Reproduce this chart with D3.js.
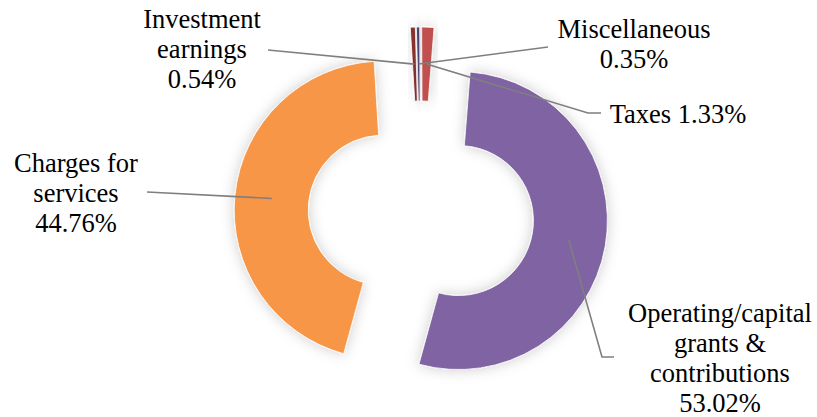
<!DOCTYPE html>
<html>
<head>
<meta charset="utf-8">
<script src="https://cdn.jsdelivr.net/npm/d3@7/dist/d3.min.js"></script>
<style>
  html, body { margin: 0; padding: 0; background: #ffffff; }
  svg { display: block; }
</style>
</head>
<body>
<svg id="chart" width="817" height="417"></svg>
<script>
// ---- data ----
const categories = ["Operating/capital grants & contributions", "Charges for services", "Investment earnings", "Miscellaneous", "Taxes"];
const values = [53.02, 44.76, 0.54, 0.35, 1.33];
const labelLines = [
  ["Operating/capital", "grants &", "contributions"],
  ["Charges for", "services"],
  ["Investment", "earnings"],
  ["Miscellaneous"],
  ["Taxes"]
];
const colors = ["#8064A2", "#F79646", "#86302E", "#4F4579", "#C0504D"];

// ---- layout ----
const cx = 421, cy = 214;
const outerR = 149, innerR = 75, explode = 38;
const startOffset = 4.5 * Math.PI / 180;
const fontSize = 26.5, lineH = 30;

// label layout (annotation positions)
const labelLayout = [
  { x: 720, y: 322, inline: false, path: [[602, 357], [614, 357]] },
  { x: 76,  y: 172, inline: false, path: [[147, 192]] },
  { x: 202, y: 28,  inline: false, path: [[268, 50]] },
  { x: 634, y: 38,  inline: false, path: [[548, 47]] },
  { x: 678, y: 123, inline: true,  path: [[588, 113], [601, 113]] }
];

const svg = d3.select("#chart");

const defs = svg.append("defs");
const f = defs.append("filter").attr("id", "shadow")
  .attr("x", "-30%").attr("y", "-30%").attr("width", "160%").attr("height", "160%");
f.append("feGaussianBlur").attr("in", "SourceAlpha").attr("stdDeviation", 7).attr("result", "blur");
f.append("feFlood").attr("flood-color", "#000").attr("flood-opacity", 0.2).attr("result", "col");
f.append("feComposite").attr("in", "col").attr("in2", "blur").attr("operator", "in").attr("result", "sh");
const fm = f.append("feMerge");
fm.append("feMergeNode").attr("in", "sh");
fm.append("feMergeNode").attr("in", "SourceGraphic");

const pie = d3.pie().sort(null).value(d => d)
  .startAngle(startOffset).endAngle(startOffset + 2 * Math.PI);
const arcs = pie(values);

const arc = d3.arc().innerRadius(innerR).outerRadius(outerR);

function offsetOf(a) {
  const m = (a.startAngle + a.endAngle) / 2;
  return [explode * Math.sin(m), -explode * Math.cos(m)];
}

const g = svg.append("g").attr("transform", `translate(${cx},${cy})`);

g.selectAll("path.slice")
  .data(arcs)
  .join("path")
  .attr("class", "slice")
  .attr("transform", d => { const o = offsetOf(d); return `translate(${o[0]},${o[1]})`; })
  .attr("d", arc)
  .attr("fill", (d, i) => colors[i])
  .attr("stroke", "#fff")
  .attr("stroke-width", 0.8)
  .attr("filter", "url(#shadow)");

// leader lines
const line = d3.line();
arcs.forEach((d, i) => {
  const o = offsetOf(d);
  const c = arc.centroid(d);
  const anchor = [cx + o[0] + c[0], cy + o[1] + c[1]];
  const pts = [anchor].concat(labelLayout[i].path);
  svg.append("path")
    .attr("d", line(pts))
    .attr("fill", "none")
    .attr("stroke", "#7f7f7f")
    .attr("stroke-width", 1.6);
});

// labels
arcs.forEach((d, i) => {
  const L = labelLayout[i];
  const pct = values[i].toFixed(2) + "%";
  const lines = L.inline
    ? [labelLines[i].join(" ") + " " + pct]
    : labelLines[i].concat([pct]);
  const t = svg.append("text")
    .attr("text-anchor", "middle")
    .style("font-family", "Liberation Serif")
    .style("font-size", fontSize + "px")
    .style("fill", "#000");
  lines.forEach((s, k) => {
    t.append("tspan").attr("x", L.x).attr("y", L.y + k * lineH).text(s);
  });
});
</script>
</body>
</html>
